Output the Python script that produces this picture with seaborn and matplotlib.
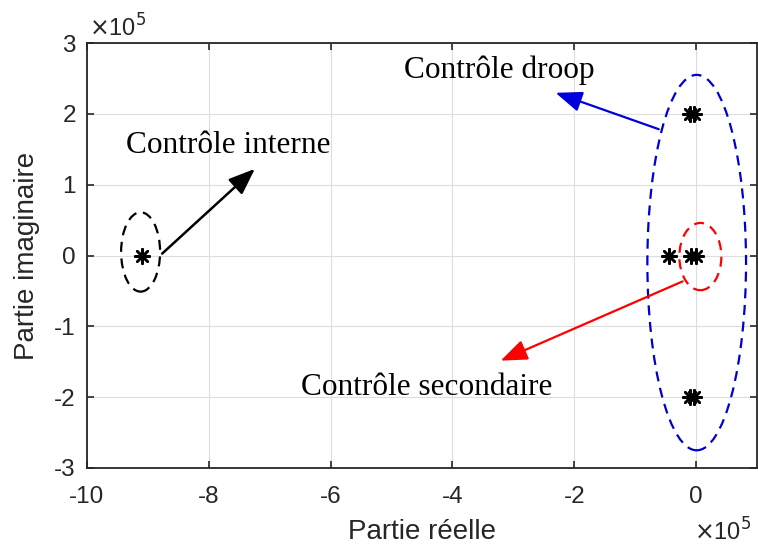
import matplotlib
matplotlib.use("Agg")
import matplotlib.pyplot as plt
import seaborn as sns
import pandas as pd
from matplotlib.patches import Ellipse

# data (units of 1e5)
pole_re = [-9.1, -0.45, -0.08, 0.0, -0.1, -0.03, -0.1, -0.03]
pole_im = [0.0, 0.0, 0.0, 0.0, 2.0, 2.0, -2.0, -2.0]

labels = ["Contrôle interne", "Contrôle droop", "Contrôle secondaire"]
x_ticks = [-10, -8, -6, -4, -2, 0]
y_ticks = [-3, -2, -1, 0, 1, 2, 3]

sns.set_theme(style="white")
plt.rcParams['font.family'] = ['Liberation Sans', 'DejaVu Sans']
plt.rcParams['axes.unicode_minus'] = False

fig = plt.figure(figsize=(7.58, 5.49), dpi=100)
ax = fig.add_axes([87/758, 1-468/549, (757-87)/758, (468-43)/549])

df = pd.DataFrame({"re": pole_re, "im": pole_im})
sns.scatterplot(data=df, x="re", y="im", ax=ax, marker=(8, 2, 0), s=110,
                color="black", linewidth=1.8, edgecolor="black", zorder=5)

ax.set_xlim(-10, 1)
ax.set_ylim(-3, 3)
ax.set_xticks(x_ticks)
ax.set_yticks(y_ticks)
ax.tick_params(direction="in", length=5, width=1.2, labelsize=17.5, colors="#262626",
               top=True, right=True, bottom=True, left=True, labeltop=False, labelright=False)
ax.tick_params(axis="x", pad=13)
ax.tick_params(axis="y", pad=8)
ax.grid(True, color="#dddddd", linewidth=0.8)
for s in ax.spines.values():
    s.set_color("#262626")
    s.set_linewidth(1.3)
    s.set_visible(True)
ax.set_xlabel("Partie réelle", fontsize=20, color="#262626", labelpad=8)
ax.set_ylabel("Partie imaginaire", fontsize=20, color="#262626", labelpad=10)

# exponent labels
fig.text(89/758, 1-37/549, r"$\times$10$^{5}$", fontsize=17, color="#262626", va="baseline", ha="left")
fig.text(694/758, 1-541/549, r"$\times$10$^{5}$", fontsize=17, color="#262626", va="baseline", ha="left")

# ellipses
ax.add_patch(Ellipse((-9.12, 0.05), 0.64, 1.12, fill=False, ls=(0, (4.5, 3)), lw=1.6, ec="black"))
ax.add_patch(Ellipse((0.01, -0.1), 1.62, 5.3, fill=False, ls=(0, (4.5, 3)), lw=1.6, ec="#0000cc"))
ax.add_patch(Ellipse((0.07, -0.015), 0.69, 0.95, fill=False, ls=(0, (4.5, 3)), lw=1.6, ec="red"))

# arrows
ax.annotate("", xy=(-7.21, 1.25), xytext=(-8.8, 0.0),
            arrowprops=dict(arrowstyle="-|>,head_length=0.9,head_width=0.35", color="black", lw=1.8, mutation_scale=18))
ax.annotate("", xy=(-2.35, 2.31), xytext=(-0.57, 1.77),
            arrowprops=dict(arrowstyle="-|>,head_length=0.9,head_width=0.35", color="#0000dd", lw=1.6, mutation_scale=18))
ax.annotate("", xy=(-3.25, -1.5), xytext=(-0.18, -0.35),
            arrowprops=dict(arrowstyle="-|>,head_length=0.9,head_width=0.35", color="red", lw=1.6, mutation_scale=18))

serif = ['Liberation Serif', 'DejaVu Serif']
ax.text(-9.36, 1.45, labels[0], family=serif, fontsize=22.5, va="baseline", ha="left", color="black")
ax.text(-4.80, 2.51, labels[1], family=serif, fontsize=22.5, va="baseline", ha="left", color="black")
ax.text(-6.49, -1.97, labels[2], family=serif, fontsize=22.5, va="baseline", ha="left", color="black")

fig.savefig("out.png", dpi=100)
